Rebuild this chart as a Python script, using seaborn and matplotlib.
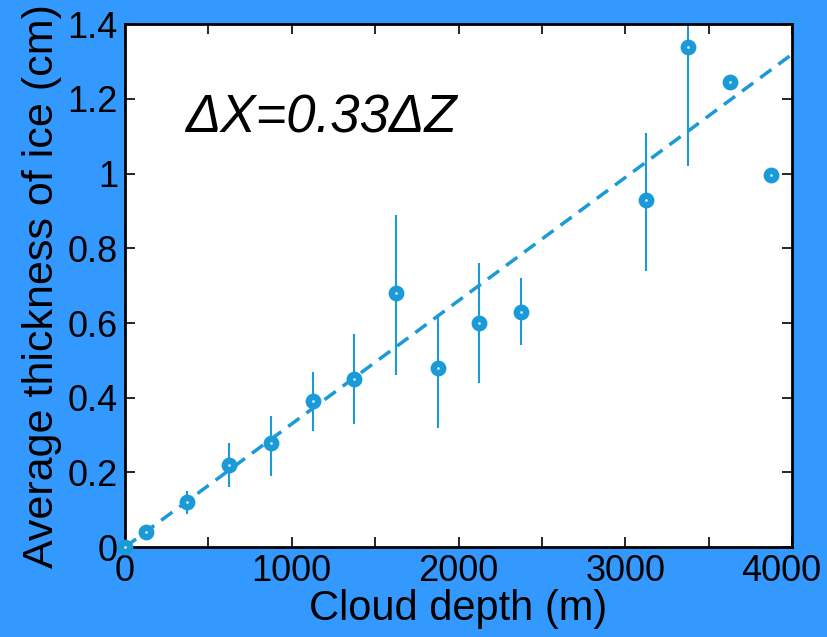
import numpy as np
import pandas as pd
import seaborn as sns
import matplotlib.pyplot as plt
import matplotlib.transforms as mtransforms
from matplotlib.ticker import MultipleLocator

# cloud depth (m), mean ice thickness (cm) and error bar ends
depth = [0, 125, 375, 625, 875, 1125, 1375, 1625, 1875, 2125, 2375, 3125, 3375, 3625, 3875]
thick = [0.0, 0.04, 0.12, 0.22, 0.28, 0.39, 0.45, 0.68, 0.48, 0.60, 0.63, 0.93, 1.34, 1.245, 0.995]
err_lo = [0.0, 0.04, 0.09, 0.16, 0.19, 0.31, 0.33, 0.46, 0.32, 0.44, 0.54, 0.74, 1.02, 1.245, 0.995]
err_hi = [0.0, 0.04, 0.15, 0.28, 0.35, 0.47, 0.57, 0.89, 0.62, 0.76, 0.72, 1.11, 1.66, 1.245, 0.995]

slope = 0.00033
fit_x = [0, 4000]

bg = '#3399ff'
blue = '#1a9ad6'

df = pd.DataFrame({'depth': depth, 'thick': thick})

sns.set_style('ticks')
plt.rcParams['font.family'] = ['Liberation Sans', 'DejaVu Sans']
plt.rcParams['text.color'] = 'black'
plt.rcParams['axes.labelcolor'] = 'black'
plt.rcParams['xtick.color'] = 'black'
plt.rcParams['ytick.color'] = 'black'

fig = plt.figure(figsize=(8.27, 6.37), dpi=100, facecolor=bg)
ax = fig.add_axes([0.151, 0.141, 0.807, 0.821])
ax.set_facecolor('white')

lo = np.array(thick) - np.array(err_lo)
hi = np.array(err_hi) - np.array(thick)
ax.errorbar(depth, thick, yerr=[lo, hi], fmt='none', ecolor=blue, elinewidth=1.5, capsize=0, zorder=2)

fit_y = [slope * v for v in fit_x]
sns.lineplot(x=fit_x, y=fit_y, ax=ax, color=blue, lw=2.5, zorder=3)
ax.lines[-1].set_linestyle((0, (4, 2.5)))

sns.scatterplot(data=df, x='depth', y='thick', ax=ax, color=blue, s=130, linewidth=0, zorder=4, clip_on=False)
# small light centre seen in the markers
sns.scatterplot(data=df, x='depth', y='thick', ax=ax, color='#cfe9f7', s=4, linewidth=0, zorder=5, clip_on=False)

ax.set_xlim(0, 4000)
ax.set_ylim(0, 1.4)
ax.set_xticks([0, 1000, 2000, 3000, 4000])
ax.set_xticklabels(['0', '1000', '2000', '3000', '4000'])
ax.xaxis.set_minor_locator(MultipleLocator(500))
ax.set_yticks([0, 0.2, 0.4, 0.6, 0.8, 1.0, 1.2, 1.4])
ax.set_yticklabels(['0', '0.2', '0.4', '0.6', '0.8', '1', '1.2', '1.4'])
ax.tick_params(which='both', direction='in', top=True, right=True, length=7, width=1.2,
               labelsize=26, pad=5, colors='black')
for s in ax.spines.values():
    s.set_linewidth(2)
    s.set_color('black')

# keep the last x label inside the figure
last = ax.get_xticklabels()[-1]
last.set_transform(last.get_transform() + mtransforms.ScaledTranslation(-0.11, 0, fig.dpi_scale_trans))

ax.set_xlabel('Cloud depth (m)', fontsize=30, labelpad=0)
ax.set_ylabel('Average thickness of ice (cm)', fontsize=31, labelpad=4)

ax.text(0.09, 0.82, 'ΔX=0.33ΔZ', transform=ax.transAxes, fontsize=38, style='italic', va='center')

fig.savefig('out.png', dpi=100, facecolor=bg)
